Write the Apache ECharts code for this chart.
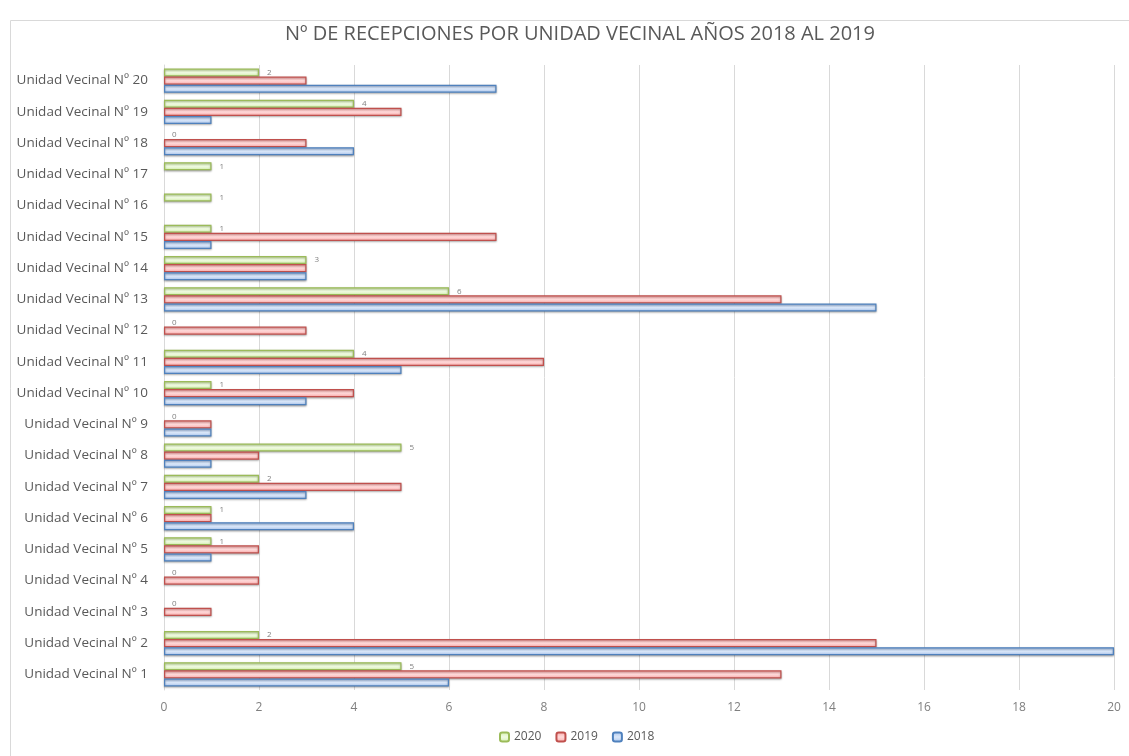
<!DOCTYPE html>
<html><head><meta charset="utf-8">
<script src="https://cdn.jsdelivr.net/npm/echarts@6/dist/echarts.min.js"></script>
<style>html,body{margin:0;padding:0;background:#fff}#c{width:1129px;height:756px}</style>
</head><body><div id="c"></div>
<script>
const categories = ['Unidad Vecinal Nº 1','Unidad Vecinal Nº 2','Unidad Vecinal Nº 3','Unidad Vecinal Nº 4','Unidad Vecinal Nº 5','Unidad Vecinal Nº 6','Unidad Vecinal Nº 7','Unidad Vecinal Nº 8','Unidad Vecinal Nº 9','Unidad Vecinal Nº 10','Unidad Vecinal Nº 11','Unidad Vecinal Nº 12','Unidad Vecinal Nº 13','Unidad Vecinal Nº 14','Unidad Vecinal Nº 15','Unidad Vecinal Nº 16','Unidad Vecinal Nº 17','Unidad Vecinal Nº 18','Unidad Vecinal Nº 19','Unidad Vecinal Nº 20'];
const values2020 = [5,2,0,0,1,1,2,5,0,1,4,0,6,3,1,1,1,0,4,2];
const values2019 = [13,15,1,2,2,1,5,2,1,4,8,3,13,3,7,0,0,3,5,3];
const values2018 = [6,20,0,0,1,4,3,1,1,3,5,0,15,3,1,0,0,4,1,7];
const xTicks = [0,2,4,6,8,10,12,14,16,18,20];

function grad(c1, c2) {
  return new echarts.graphic.LinearGradient(0,0,0,1,[{offset:0,color:c1},{offset:0.5,color:c2},{offset:1,color:c1}]);
}
function mk(vals) {
  return vals.map(v => v === 0 ? {value:0, itemStyle:{borderWidth:0, shadowBlur:0, shadowOffsetY:0, opacity:0}} : v);
}
const chart = echarts.init(document.getElementById('c'), null, {renderer:'canvas'});
const base = { type:'bar', barGap:'0%', barCategoryGap:'22%' };
const shadow = {shadowColor:'rgba(0,0,0,0.3)', shadowBlur:2, shadowOffsetY:1, borderWidth:1.2};
chart.setOption({
  animation:false,
  graphic:[{type:'rect', shape:{x:10.5,y:20.5,width:1130,height:740}, style:{fill:'none', stroke:'#d9d9d9', lineWidth:1}, silent:true}],
  title:{text:'Nº DE RECEPCIONES POR UNIDAD VECINAL AÑOS 2018 AL 2019', left:575, textAlign:'center', top:19,
    textStyle:{fontFamily:'Open Sans', fontSize:20, fontWeight:'normal', color:'#595959'}},
  legend:{data:['2020','2019','2018'], bottom:8, left:494, itemWidth:9, itemHeight:9, itemGap:14,
    textStyle:{fontFamily:'Open Sans', fontSize:12, color:'#595959'}},
  grid:{left:164, right:15, top:65, bottom:66, containLabel:false},
  xAxis:{type:'value', min:0, max:20, interval:2,
    axisLabel:{color:'#7f7f7f', fontFamily:'Open Sans', fontSize:12, margin:12},
    splitLine:{lineStyle:{color:'#d9d9d9', width:1}},
    axisLine:{show:false}, axisTick:{show:false}},
  yAxis:{type:'category', data:categories,
    axisLabel:{color:'#595959', fontFamily:'Open Sans', fontSize:13.5, margin:16},
    axisLine:{show:true, lineStyle:{color:'#d9d9d9'}}, axisTick:{show:false}},
  series:[
    Object.assign({}, base, {name:'2020', data:mk(values2020),
      itemStyle:Object.assign({color:grad('#d4f0ad','#f0fbe2'), borderColor:'#9bbb59'}, shadow),
      label:{show:true, position:'right', distance:8, offset:[0,0], fontSize:8, fontFamily:'Open Sans', color:'#7f7f7f', opacity:1}}),
    Object.assign({}, base, {name:'2019', data:mk(values2019),
      itemStyle:Object.assign({color:grad('#fba9a9','#ffdada'), borderColor:'#c0504d'}, shadow)}),
    Object.assign({}, base, {name:'2018', data:mk(values2018),
      itemStyle:Object.assign({color:grad('#a9c4ec','#dbe8fa'), borderColor:'#4f81bd'}, shadow)})
  ]
});
</script></body></html>
